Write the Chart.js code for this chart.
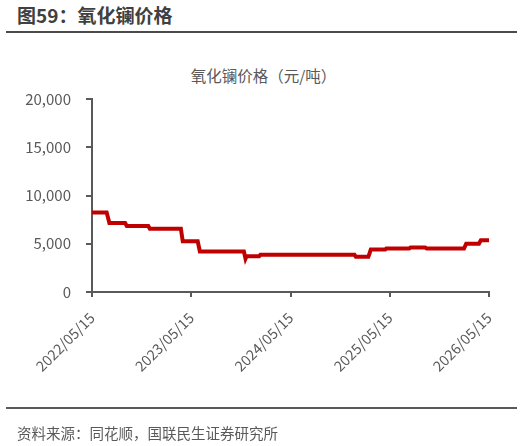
<!DOCTYPE html>
<html>
<head>
<meta charset="utf-8">
<script src="https://cdn.jsdelivr.net/npm/chart.js@4/dist/chart.umd.min.js"></script>
<style>
  html, body { margin: 0; padding: 0; background: #fff; }
  body { width: 527px; height: 446px; position: relative; overflow: hidden; font-family: "Noto Sans CJK SC", "Noto Sans", sans-serif; }
  #title { position: absolute; left: 17px; top: 2px; font-size: 19px; font-weight: bold; color: #404040; line-height: 26px; }
  #topline { position: absolute; left: 6px; top: 31px; width: 511px; height: 2px; background: #4a4a4a; }
  #ctitle { position: absolute; left: 0; width: 527px; top: 64px; text-align: center; font-size: 15.5px; color: #595959; line-height: 22px; }
  #botline { position: absolute; left: 6px; top: 407px; width: 511px; height: 2px; background: #5a5a5a; }
  #source { position: absolute; left: 17px; top: 422px; font-size: 14.5px; color: #595959; line-height: 21px; }
  #wrap { position: absolute; left: 0; top: 0; width: 527px; height: 446px; }
</style>
</head>
<body>
<div id="title">图59：氧化镧价格</div>
<div id="topline"></div>
<div id="ctitle">氧化镧价格（元/吨）</div>
<div id="wrap"><canvas id="c" width="527" height="446"></canvas></div>
<div id="botline"></div>
<div id="source">资料来源：同花顺，国联民生证券研究所</div>
<script>
// ---- data ----
const dates = [
  "2022-05-15","2022-07-08","2022-07-18","2022-09-14","2022-09-20","2022-12-08",
  "2022-12-14","2023-04-07","2023-04-14","2023-06-08","2023-06-16","2023-11-25",
  "2023-12-01","2023-12-05","2024-01-20","2024-01-25","2025-01-05","2025-01-10",
  "2025-02-25","2025-03-06","2025-04-28","2025-05-02","2025-07-25","2025-07-30",
  "2025-09-22","2025-09-28","2026-02-12","2026-02-20","2026-04-08","2026-04-15",
  "2026-05-15"
];
const prices = [
  8250, 8250, 7150, 7150, 6850, 6850,
  6550, 6550, 5250, 5250, 4200, 4200,
  3450, 3700, 3700, 3870, 3870, 3650,
  3650, 4400, 4400, 4500, 4500, 4600,
  4600, 4500, 4500, 5000, 5000, 5350,
  5350
];
const xTickLabels = ["2022/05/15","2023/05/15","2024/05/15","2025/05/15","2026/05/15"];
const yTicks = [0, 5000, 10000, 15000, 20000];

const DAY = 86400000;
function toDay(s) {
  const p = s.replace(/\//g, "-").split("-").map(Number);
  return Date.UTC(p[0], p[1] - 1, p[2]) / DAY;
}
function fmtDay(d) {
  const dt = new Date(Math.round(d) * DAY);
  const mm = String(dt.getUTCMonth() + 1).padStart(2, "0");
  const dd = String(dt.getUTCDate()).padStart(2, "0");
  return dt.getUTCFullYear() + "/" + mm + "/" + dd;
}
const points = dates.map((d, i) => ({ x: toDay(d), y: prices[i] }));
const xTickVals = xTickLabels.map(toDay);

const axisColor = "#595959";
const fontFam = "'Noto Sans CJK SC', 'Noto Sans', sans-serif";

new Chart(document.getElementById("c"), {
  type: "line",
  data: {
    datasets: [{
      data: points,
      borderColor: "#C00000",
      borderWidth: 4,
      pointRadius: 0,
      tension: 0,
      fill: false
    }]
  },
  options: {
    responsive: false,
    animation: false,
    layout: { padding: { top: 99, right: 38, left: 0, bottom: 0 } },
    plugins: { legend: { display: false }, tooltip: { enabled: false }, title: { display: false } },
    scales: {
      x: {
        type: "linear",
        min: xTickVals[0],
        max: xTickVals[xTickVals.length - 1],
        afterBuildTicks: (s) => { s.ticks = xTickVals.map(v => ({ value: v })); },
        afterFit: (s) => { s.height = 154; },
        border: { display: true, color: axisColor, width: 2 },
        grid: { display: true, drawOnChartArea: false, drawTicks: true, tickLength: 5, color: axisColor, lineWidth: 2 },
        ticks: {
          autoSkip: false,
          minRotation: 45, maxRotation: 45,
          padding: 12,
          color: axisColor,
          font: { family: fontFam, size: 14.5 },
          callback: (v) => fmtDay(v)
        }
      },
      y: {
        min: 0, max: 20000,
        afterBuildTicks: (s) => { s.ticks = yTicks.map(v => ({ value: v })); },
        afterFit: (s) => { s.width = 92; },
        border: { display: true, color: axisColor, width: 2 },
        grid: { display: true, drawOnChartArea: false, drawTicks: true, tickLength: 6, color: axisColor, lineWidth: 2 },
        ticks: {
          padding: 15,
          color: axisColor,
          font: { family: fontFam, size: 15 },
          callback: (v) => v.toLocaleString("en-US")
        }
      }
    }
  }
});
</script>
</body>
</html>
